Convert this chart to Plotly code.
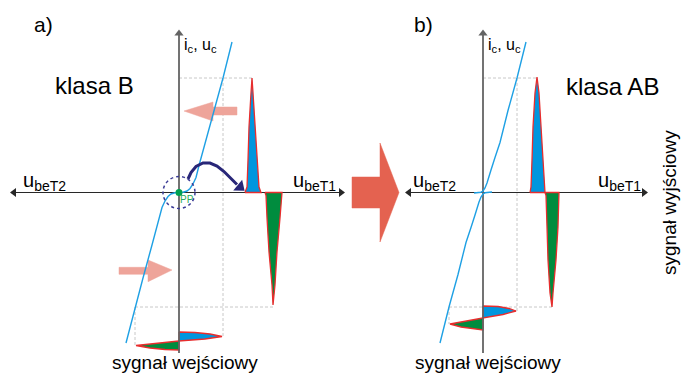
import plotly.graph_objects as go

# ---------------- data (panel units: origin at axis crossing, y up) ----------------
# transfer characteristic, class B (panel a)
curve_a_ube = [-53, -44, -36, -27, -20, -17, -14, -11, -8, -4, 0, 4, 8, 11, 14, 17, 20, 27, 36, 44, 53]
curve_a_ic = [-150.5, -114.5, -85.5, -52.5, -27, -15, -8.5, -4, -1.5, -0.3, 0, 0.3, 1.5, 4, 8.5, 15, 27, 52.5, 85.5, 114.5, 150.5]
# transfer characteristics, class AB (panel b): upper (T1) and lower (T2)
curve_b1_ube = [-9, -5, -2, 0, 2, 4, 6, 8, 12, 17, 25, 34, 43]
curve_b1_ic = [-0.5, -0.3, 0.3, 1.5, 4.5, 9.5, 15, 22.5, 35, 50, 82, 114.5, 150.5]
curve_b2_ube = [9, 5, 2, 0, -2, -4, -6, -8, -12, -17, -25, -34, -43]
curve_b2_ic = [0.5, 0.3, -0.3, -1.5, -4.5, -9.5, -15, -22.5, -35, -50, -82, -114.5, -150.5]

# output signal lobes
out_a_pos_x = [66, 68, 69, 70, 72, 73, 74, 76, 78, 80, 82, 66]
out_a_pos_y = [0, 5.5, 32.5, 65.5, 99.5, 114.5, 99.5, 65.5, 32.5, 5.5, 0, 0]
out_a_neg_x = [86, 87, 88, 90, 93, 94, 96, 98, 101, 103, 103, 86]
out_a_neg_y = [0, -3, -25.5, -59.5, -92.5, -112.5, -92.5, -59.5, -25.5, -3, 0, 0]
out_b_pos_x = [47, 48, 49, 50, 52, 54, 56, 58, 60, 61, 62, 47]
out_b_pos_y = [0, 5.5, 32.5, 65.5, 99.5, 115.5, 99.5, 65.5, 32.5, 5.5, 0, 0]
out_b_neg_x = [62, 63, 64, 65, 67, 69, 70, 73, 75, 76, 76, 62]
out_b_neg_y = [0, -3, -34.5, -67.5, -100.5, -114.5, -100.5, -67.5, -34.5, -3, 0, 0]

# input signal lobes
in_a_pos_x = [0, 16, 31, 43, 26, 11, 0, 0]
in_a_pos_y = [-139.5, -140, -141.5, -144, -146.5, -148, -148.5, -139.5]
in_a_neg_x = [0, -43, -29, -14, 0, 0]
in_a_neg_y = [-148.5, -153, -155.5, -157, -157.5, -148.5]
in_b_pos_x = [0, 15, 26, 33, 20, 8, 0, 0]
in_b_pos_y = [-113.5, -114, -116, -118.5, -122, -124.5, -125.5, -113.5]
in_b_neg_x = [0, -33, -22, -10, 0, 0]
in_b_neg_y = [-125.5, -131.5, -134.5, -136.5, -137.5, -125.5]

# projection (dashed) lines: (x0, y0, x1, y1)
proj_a = [(0, 114.5, 73, 114.5), (44, 114.5, 44, -144), (-44, -114.5, 94, -114.5), (-44, -114.5, -44, -153)]
proj_b = [(0, 114.5, 54, 114.5), (34, 114.5, 34, -118.5), (-34, -114.5, 69, -114.5), (-34, -114.5, -34, -131.5)]

# arrows (polygons)
pink_left_x = [5, 34, 34, 58, 58, 34, 34, 5]
pink_left_y = [81.5, 90.5, 85.5, 85.5, 77.5, 77.5, 71.5, 81.5]
pink_right_x = [-60, -31, -31, -7, -31, -31, -60, -60]
pink_right_y = [-74.8, -74.8, -67.5, -77.5, -89.2, -81.8, -81.8, -74.8]
big_arrow_x = [173, 201, 201, 220, 201, 201, 173, 173]
big_arrow_y = [15.5, 15.5, 49.5, 0, -49.5, -15.5, -15.5, 15.5]
curl_x = [9, 12, 17, 24, 31, 38, 45, 52, 58]
curl_y = [13.5, 20, 26, 29.5, 29.5, 26.5, 21, 14, 8]

# ---------------- styles ----------------
FONT = "Arial, Liberation Sans, sans-serif"
BLUE_FILL = "rgb(0,150,222)"
GREEN_FILL = "rgb(0,140,62)"
RED = "rgb(232,45,45)"
CURVE = "rgb(30,160,228)"
NAVY = "rgb(40,38,120)"
AX_GRAY = "rgb(100,100,100)"
AX_DARK = "rgb(40,40,40)"

OX_A, OX_B, OY = 179, 483, 192.5  # pixel position of panel origins

fig = go.Figure()


def poly(xs, ys, fill, line, xa="x", w=1.3):
    fig.add_trace(go.Scatter(x=xs, y=ys, xaxis=xa, yaxis="y", mode="lines",
                             fill="toself", fillcolor=fill,
                             line=dict(color=line, width=w), hoverinfo="skip"))


def line(xs, ys, color, w, xa="x", dash="solid"):
    fig.add_trace(go.Scatter(x=xs, y=ys, xaxis=xa, yaxis="y", mode="lines",
                             line=dict(color=color, width=w, dash=dash), hoverinfo="skip"))


def head(x, y, symbol, color, size, xa="x", angle=0):
    fig.add_trace(go.Scatter(x=[x], y=[y], xaxis=xa, yaxis="y", mode="markers",
                             marker=dict(symbol=symbol, color=color, size=size, angle=angle,
                                         line=dict(width=0)),
                             hoverinfo="skip"))


# dashed projection lines
for xa, proj in (("x", proj_a), ("x2", proj_b)):
    for x0, y0, x1, y1 in proj:
        fig.add_shape(type="line", xref=xa, yref="y", x0=x0, y0=y0, x1=x1, y1=y1,
                      line=dict(color="rgb(200,200,200)", width=1, dash="3px,2px"), layer="below")

# horizontal axes
line([-166, 163], [0, 0], AX_DARK, 1.2, "x")
line([-75, 162], [0, 0], AX_DARK, 1.2, "x2")
head(-165, 0, "triangle-left", AX_DARK, 8, "x")
head(162, 0, "triangle-right", AX_DARK, 8, "x")
head(-74, 0, "triangle-left", AX_DARK, 8, "x2")
head(161, 0, "triangle-right", AX_DARK, 8, "x2")

# pink arrows and big arrow
poly(pink_left_x, pink_left_y, "rgb(238,164,154)", "rgb(238,164,154)", "x", 0.5)
poly(pink_right_x, pink_right_y, "rgb(238,164,154)", "rgb(238,164,154)", "x", 0.5)
poly(big_arrow_x, big_arrow_y, "rgb(228,98,80)", "rgb(228,98,80)", "x", 0.5)

# output signals
poly(out_a_pos_x, out_a_pos_y, BLUE_FILL, RED, "x")
poly(out_a_neg_x, out_a_neg_y, GREEN_FILL, RED, "x")
poly(out_b_pos_x, out_b_pos_y, BLUE_FILL, RED, "x2")
poly(out_b_neg_x, out_b_neg_y, GREEN_FILL, RED, "x2")
# input signals
poly(in_a_pos_x, in_a_pos_y, BLUE_FILL, RED, "x")
poly(in_a_neg_x, in_a_neg_y, GREEN_FILL, RED, "x")
poly(in_b_pos_x, in_b_pos_y, BLUE_FILL, RED, "x2")
poly(in_b_neg_x, in_b_neg_y, GREEN_FILL, RED, "x2")

# vertical axes
line([0, 0], [-160.5, 158], AX_GRAY, 1.8, "x")
line([0, 0], [-160.5, 158], AX_GRAY, 1.8, "x2")
head(0, 159, "triangle-up", AX_GRAY, 8, "x")
head(0, 159, "triangle-up", AX_GRAY, 8, "x2")

# transfer characteristics
line(curve_a_ube, curve_a_ic, CURVE, 1.4, "x")
line(curve_b1_ube, curve_b1_ic, CURVE, 1.4, "x2")
line(curve_b2_ube, curve_b2_ic, CURVE, 1.4, "x2")

# quiescent point circle + dot
fig.add_shape(type="circle", xref="x", yref="y", x0=-16, x1=16, y0=-16, y1=16,
              line=dict(color="rgb(60,60,150)", width=1.5, dash="dot"))
fig.add_trace(go.Scatter(x=[0], y=[0], mode="markers", xaxis="x", yaxis="y",
                         marker=dict(color="rgb(0,160,80)", size=7), hoverinfo="skip"))

# curved arrow
line(curl_x, curl_y, NAVY, 3, "x")
head(61, 5.5, "triangle-right", NAVY, 12, "x", angle=40)

ann = []


def txt(text, px, py, size, anchor="center", color="black", angle=0, yanchor="middle"):
    ann.append(dict(text=text, x=px - OX_A, y=OY - py, xref="x", yref="y",
                    showarrow=False, xanchor=anchor, yanchor=yanchor, textangle=angle,
                    font=dict(family=FONT, size=size, color=color)))


txt("a)", 43, 24, 21)
txt("b)", 423, 24, 21)
txt("klasa B", 94, 85, 24)
txt("klasa AB", 612, 86, 24)
txt("i<sub>c</sub>, u<sub>c</sub>", 182, 45, 16, "left")
txt("i<sub>c</sub>, u<sub>c</sub>", 486, 45, 16, "left")
txt("u<sub>beT2</sub>", 21, 181, 20, "left")
txt("u<sub>beT1</sub>", 291, 181, 20, "left")
txt("u<sub>beT2</sub>", 411, 181, 20, "left")
txt("u<sub>beT1</sub>", 596, 181, 20, "left")
txt("PP", 187, 199, 10, color="rgb(40,170,90)")
txt("sygnał wejściowy", 185, 362, 19)
txt("sygnał wejściowy", 488, 362, 19)
txt("sygnał wyjściowy", 669, 203, 19, angle=-90)

fig.update_layout(
    width=689, height=376, margin=dict(l=0, r=0, t=0, b=0),
    paper_bgcolor="white", plot_bgcolor="rgba(0,0,0,0)", showlegend=False,
    xaxis=dict(range=[-OX_A, 689 - OX_A], visible=False, domain=[0, 1], fixedrange=True),
    xaxis2=dict(range=[-OX_B, 689 - OX_B], visible=False, domain=[0, 1],
                overlaying="x", anchor="y", fixedrange=True),
    yaxis=dict(range=[OY - 376, OY], visible=False, domain=[0, 1], fixedrange=True),
    annotations=ann,
)

fig.write_html("out.html", config={"displayModeBar": False},
               post_script="document.body.style.margin='0px';document.body.style.overflow='hidden';")
